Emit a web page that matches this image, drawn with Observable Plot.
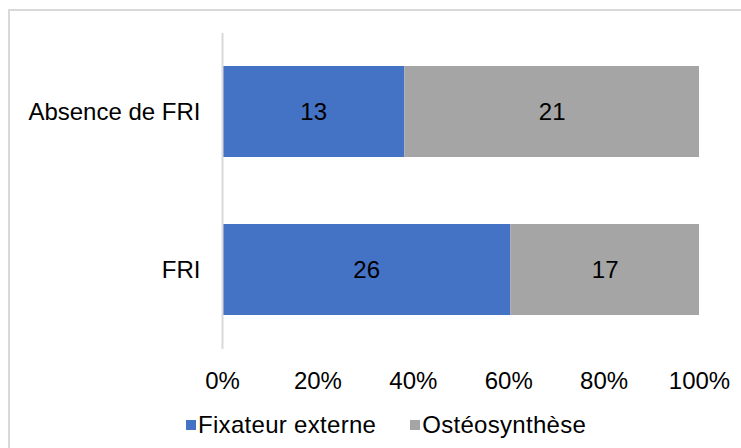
<!DOCTYPE html>
<html>
<head>
<meta charset="utf-8">
<script src="https://cdn.jsdelivr.net/npm/d3@7"></script>
<script src="https://cdn.jsdelivr.net/npm/@observablehq/plot@0.6"></script>
<style>
  html, body { margin: 0; padding: 0; background: #fff; }
  #wrap { position: relative; width: 741px; height: 448px; overflow: hidden; font-family: "Liberation Sans", Arial, sans-serif; }
  #frame { position: absolute; left: 8px; top: 9px; width: 800px; height: 500px; border-left: 2px solid #d9d9d9; border-top: 2px solid #d9d9d9; box-sizing: border-box; }
  #chart { position: absolute; left: 0; top: 0; }
  #legend { position: absolute; left: 186px; top: 410px; height: 30px; display: flex; align-items: center; font-size: 24px; letter-spacing: 0.3px; color: #000; white-space: nowrap; }
  .sw { display: inline-block; width: 10px; height: 10px; margin-right: 2px; }
  .item { display: flex; align-items: center; margin-right: 34px; }
</style>
</head>
<body>
<div id="wrap">
  <div id="frame"></div>
  <div id="chart"></div>
  <div id="legend"></div>
</div>
<script>
const categories = ["Absence de FRI", "FRI"];
const seriesNames = ["Fixateur externe", "Ostéosynthèse"];
const fixateurExterne = [13, 26];
const osteosynthese = [21, 17];
const colors = ["#4472C4", "#A5A5A5"];
const xTicks = [0, 0.2, 0.4, 0.6, 0.8, 1];

const rows = [];
categories.forEach((c, i) => {
  rows.push({cat: c, series: seriesNames[0], value: fixateurExterne[i]});
  rows.push({cat: c, series: seriesNames[1], value: osteosynthese[i]});
});

const chart = Plot.plot({
  width: 741,
  height: 410,
  marginLeft: 222,
  marginRight: 42,
  marginTop: 33,
  marginBottom: 61,
  style: {fontFamily: "'Liberation Sans', Arial, sans-serif", fontSize: "24px", color: "#000", background: "transparent"},
  x: {domain: [0, 1], ticks: xTicks, tickFormat: d => Math.round(d * 100) + "%", tickSize: 0, tickPadding: 23, label: null},
  y: {domain: categories, paddingInner: 0.424, paddingOuter: 0.212, tickSize: 0, tickPadding: 22, label: null},
  color: {domain: seriesNames, range: colors},
  marks: [
    Plot.barX(rows, Plot.stackX({x: "value", y: "cat", fill: "series", offset: "normalize", order: seriesNames})),
    Plot.text(rows, Plot.stackX({x: "value", y: "cat", z: "series", text: d => String(d.value), offset: "normalize", order: seriesNames, fill: "#000", fontSize: 24})),
    Plot.ruleX([0], {stroke: "#d9d9d9", strokeWidth: 2}),
    Plot.axisX({ticks: xTicks, tickFormat: d => Math.round(d * 100) + "%", tickSize: 0, tickPadding: 22, fontSize: 24}),
    Plot.axisY({tickSize: 0, tickPadding: 22, fontSize: 24})
  ]
});
document.getElementById("chart").appendChild(chart);

const legend = document.getElementById("legend");
seriesNames.forEach((s, i) => {
  const item = document.createElement("span");
  item.className = "item";
  const sw = document.createElement("span");
  sw.className = "sw";
  sw.style.background = colors[i];
  item.appendChild(sw);
  item.appendChild(document.createTextNode(s));
  legend.appendChild(item);
});
</script>
</body>
</html>
